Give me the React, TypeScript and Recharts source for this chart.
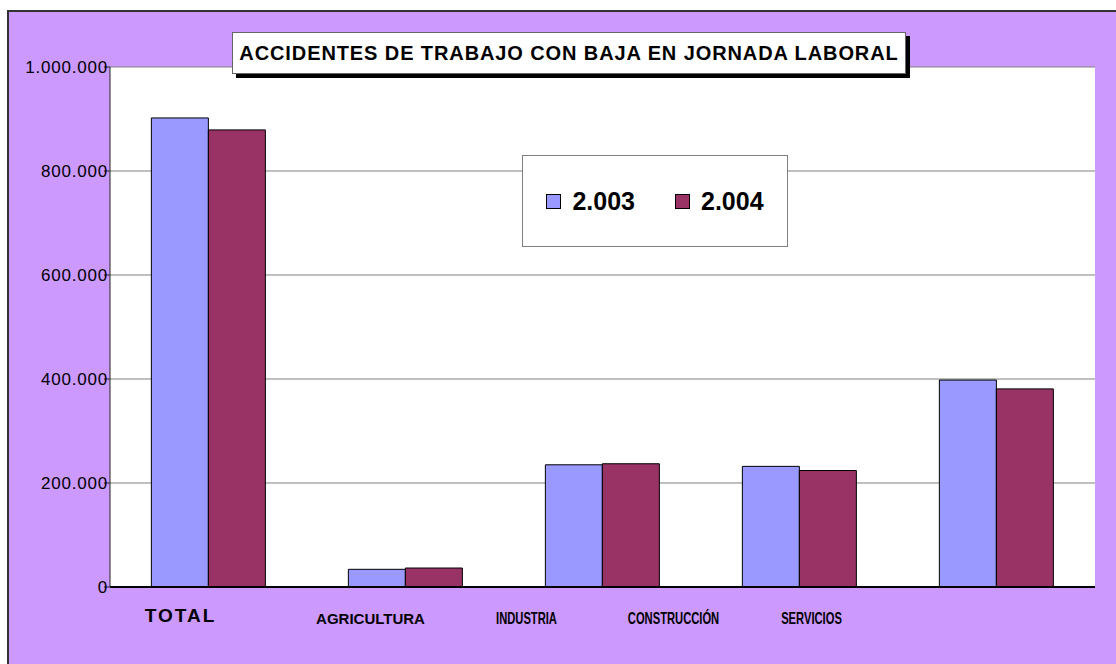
import { BarChart, Bar, XAxis, YAxis, CartesianGrid } from "recharts";

// datos del gráfico
const sectores = ["TOTAL", "AGRICULTURA", "INDUSTRIA", "CONSTRUCCIÓN", "SERVICIOS"];
const anio2003 = [902000, 34000, 235000, 232000, 398000];
const anio2004 = [879000, 36500, 237000, 224000, 381000];
const yTicks = [0, 200000, 400000, 600000, 800000, 1000000];
const series = [
  { key: "a2003", name: "2.003", color: "#9999FF" },
  { key: "a2004", name: "2.004", color: "#993366" },
];

const data = sectores.map((s, i) => ({ name: s, a2003: anio2003[i], a2004: anio2004[i] }));

const fmt = (v: number) => v.toLocaleString("en-US").replace(/,/g, ".");

// desplazamiento de las etiquetas respecto al centro de la categoría
const labelShift = [-28, -35, -76, -126, -185];

const CategoryTick = (props: any) => {
  const { x, y, payload, index } = props;
  const label = payload.value;
  const cx = x + labelShift[index];
  if (label === "TOTAL") {
    return (
      <text x={cx} y={y + 27} textAnchor="middle" fill="#000" fontWeight="bold"
        fontFamily="Liberation Sans, Arial" fontSize={19} letterSpacing={2}>
        {label}
      </text>
    );
  }
  // las demás etiquetas van en letra estrecha, salvo AGRICULTURA
  const narrow = label !== "AGRICULTURA";
  return (
    <text
      transform={`translate(${cx},${y + 29}) scale(${narrow ? 0.7 : 1},1)`}
      x={0}
      y={0}
      textAnchor="middle"
      fill="#000"
      fontWeight="bold"
      fontFamily="Liberation Sans, Arial"
      fontSize={narrow ? 16 : 15}
    >
      {label}
    </text>
  );
};

const LegendBox = () => (
  <div
    style={{
      position: "absolute",
      left: 522,
      top: 155,
      width: 264,
      height: 90,
      background: "#fff",
      border: "1px solid #808080",
      display: "flex",
      alignItems: "center",
      justifyContent: "center",
      gap: 40,
      fontFamily: "Liberation Sans, Arial",
      fontWeight: "bold",
      fontSize: 25,
    }}
  >
    {series.map((s) => (
      <div key={s.key} style={{ display: "flex", alignItems: "center", gap: 11 }}>
        <span style={{ width: 13, height: 13, background: s.color, border: "1px solid #000", display: "inline-block" }} />
        <span>{s.name}</span>
      </div>
    ))}
  </div>
);

const App = () => {
  return (
    <div style={{ position: "fixed", left: 0, top: 0, width: 1116, height: 664, background: "#fff", overflow: "hidden" }}>
      <div
        style={{
          position: "absolute",
          left: 7,
          top: 10,
          width: 1120,
          height: 670,
          background: "#CC99FF",
          border: "2px solid #333",
        }}
      />
      <div style={{ position: "absolute", left: 0, top: 0 }}>
        <BarChart
          width={1116}
          height={664}
          data={data}
          margin={{ top: 67, right: 21, bottom: 37, left: 10 }}
          barCategoryGap="21%"
          barGap={0}
        >
          <CartesianGrid vertical={false} stroke="#808080" fill="#fff" fillOpacity={1} />
          <XAxis
            dataKey="name"
            axisLine={{ stroke: "#000", strokeWidth: 2 }}
            tickLine={false}
            height={40}
            tick={<CategoryTick />}
            interval={0}
          />
          <YAxis
            domain={[0, 1000000]}
            ticks={yTicks}
            width={100}
            tickFormatter={fmt}
            axisLine={{ stroke: "#222" }}
            tickLine={{ stroke: "#222" }}
            tickSize={6}
            tick={{ fill: "#000", fontSize: 17, fontFamily: "Liberation Sans, Arial", letterSpacing: 0.8, dx: 6 }}
          />
          <YAxis yAxisId="r" orientation="right" width={0} axisLine={{ stroke: "#808080" }} tick={false} tickLine={false} />
          {series.map((s) => (
            <Bar
              key={s.key}
              dataKey={s.key}
              name={s.name}
              fill={s.color}
              stroke="#000"
              strokeWidth={1}
              isAnimationActive={false}
            />
          ))}
        </BarChart>
      </div>
      <LegendBox />
      <div
        style={{
          position: "absolute",
          left: 232,
          top: 32,
          width: 672,
          height: 40,
          background: "#fff",
          border: "1px solid #666",
          boxShadow: "4px 4px 0 #000",
          display: "flex",
          alignItems: "center",
          justifyContent: "center",
          fontFamily: "Liberation Sans, Arial",
          fontWeight: "bold",
          fontSize: 20,
          letterSpacing: 0.9,
          color: "#000",
          whiteSpace: "nowrap",
        }}
      >
        ACCIDENTES DE TRABAJO CON BAJA EN JORNADA LABORAL
      </div>
    </div>
  );
};

export default App;
